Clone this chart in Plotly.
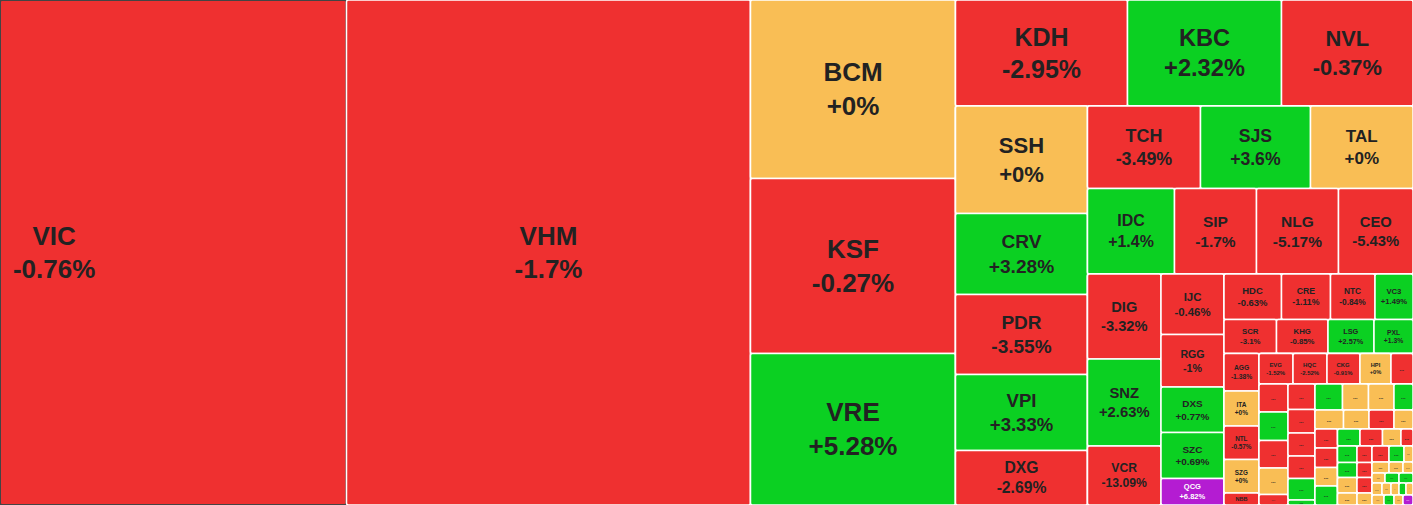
import plotly.graph_objects as go

# ---------------- data ----------------
# leaf tiles: ticker, size value, % change, trend (d=down, u=up, f=flat, c=ceiling), parent block
tickers = [
    "VIC", "VHM",
    "BCM", "KSF", "VRE",
    "KDH", "KBC", "NVL",
    "SSH", "CRV", "PDR", "VPI", "DXG",
    "TCH", "SJS", "TAL",
    "IDC", "SIP", "NLG", "CEO",
    "DIG", "SNZ", "VCR",
    "IJC", "RGG", "DXS", "SZC", "QCG",
    "HDC", "CRE", "NTC", "VC3",
    "SCR", "KHG", "LSG", "PXL",
    "AGG", "ITA", "NTL", "SZG", "NBB",
    "EVG", "HQC", "CKG", "HPI", "...",
    "...", "...", "...", "...", "...",
    "...", "...", "...", "...", "...", "...",
    "...", "...", "...", "...",
    "...", "...", "...", "...",
    "...", "...", "...", "...",
    "...", "...", "...", "...",
    "...", "...", "...", "...",
    "...", "...", "...", "...",
    "...", "...", "...",
    "...", "...", "...",
    "...", "...", "...",
    "...", "...", "...", "...", "...",
    "...", "...", "...", "...",
]
values = [
    174982, 204020,
    36592, 35875, 31058,
    18232, 16324, 13939,
    14190, 10692, 10560, 10032, 7194,
    9322, 9075, 8456,
    7438, 7011, 7011, 6370,
    6248, 6394, 4336,
    3812, 3308, 2866, 2898, 1670,
    2616, 2230, 2025, 1729,
    1785, 1751, 1564, 1326,
    1312, 1225, 1172, 1172, 420,
    1037, 1037, 1006, 946, 671,
    812, 826, 798, 768, 304,
    688, 634, 621, 608, 580, 135,
    715, 676, 663, 494,
    542, 484, 475, 361,
    428, 439, 416, 428,
    382, 382, 314, 204,
    322, 292, 302, 234,
    248, 225, 232, 180,
    272, 240, 144,
    187, 154, 110,
    130, 140, 140,
    120, 108, 96, 84, 84,
    120, 100, 90, 100,
]
changes = [
    "-0.76%", "-1.7%",
    "+0%", "-0.27%", "+5.28%",
    "-2.95%", "+2.32%", "-0.37%",
    "+0%", "+3.28%", "-3.55%", "+3.33%", "-2.69%",
    "-3.49%", "+3.6%", "+0%",
    "+1.4%", "-1.7%", "-5.17%", "-5.43%",
    "-3.32%", "+2.63%", "-13.09%",
    "-0.46%", "-1%", "+0.77%", "+0.69%", "+6.82%",
    "-0.63%", "-1.11%", "-0.84%", "+1.49%",
    "-3.1%", "-0.85%", "+2.57%", "+1.3%",
    "-1.38%", "+0%", "-0.57%", "+0%", "",
    "-1.52%", "-2.52%", "-0.91%", "+0%", "",
] + [""] * 59
trends = [
    "d", "d",
    "f", "d", "u",
    "d", "u", "d",
    "f", "u", "d", "u", "d",
    "d", "u", "f",
    "u", "d", "d", "d",
    "d", "u", "d",
    "d", "d", "u", "u", "c",
    "d", "d", "d", "u",
    "d", "d", "u", "u",
    "d", "f", "d", "f", "d",
    "d", "d", "d", "f", "d",
    "d", "u", "d", "f", "d",
    "d", "d", "d", "d", "u", "u",
    "u", "f", "f", "u",
    "f", "f", "d", "f",
    "d", "d", "f", "u",
    "u", "d", "f", "d",
    "u", "u", "f", "f",
    "d", "d", "d", "f",
    "d", "u", "f",
    "f", "f", "f",
    "f", "u", "u",
    "f", "f", "f", "u", "f",
    "f", "u", "f", "c",
]
leaf_parents = (
    ["root"] * 2 + ["C3"] * 3 + ["Rtop"] * 3 + ["Cssh"] * 5 + ["Rtch"] * 3
    + ["Ridc"] * 4 + ["Cdig"] * 3 + ["Cijc"] * 5 + ["Rhdc"] * 4 + ["Rscr"] * 4
    + ["Cagg"] * 5 + ["Revg"] * 5 + ["colA"] * 5 + ["colB"] * 6 + ["Rg1"] * 4
    + ["Rg2"] * 4 + ["colC"] * 4 + ["Rg3"] * 4 + ["colD"] * 4 + ["colE"] * 4
    + ["Rg4"] * 3 + ["Rg5"] * 3 + ["Rg6"] * 3 + ["Rg7a"] * 5 + ["Rg7b"] * 4
)

# grouping blocks of the treemap (hierarchy only)
group_ids = [
    "C3", "R", "Rtop", "Rbot", "Cssh", "Rright", "Rtch", "Ridc", "Rlow",
    "Cdig", "Cijc", "Rsmall", "Rhdc", "Rscr", "Rlow2", "Cagg", "Rblk",
    "Revg", "Rb2", "colA", "colB", "Rb3", "Rg1", "Rg2", "Rb4", "colC",
    "Rb5", "Rg3", "Rb6", "colD", "colE", "Rb7", "Rg4", "Rg5", "Rg6",
    "Rg7a", "Rg7b",
]
group_parents = [
    "root", "root", "R", "R", "Rbot", "Rbot", "Rright", "Rright", "Rright",
    "Rlow", "Rlow", "Rlow", "Rsmall", "Rsmall", "Rsmall", "Rlow2", "Rlow2",
    "Rblk", "Rblk", "Rb2", "Rb2", "Rb2", "Rb3", "Rb3", "Rb3", "Rb4",
    "Rb4", "Rb5", "Rb5", "Rb6", "Rb6", "Rb6", "Rb7", "Rb7", "Rb7",
    "Rb7", "Rb7",
]

# ---------------- styling ----------------
palette = {"d": "#EF3030", "u": "#0BD022", "f": "#F9BE55", "c": "#B41CD2"}

nodes = []  # (id, label, parent, value, color, text, text_color, size)
nodes.append(("root", "", "", 0, "#FFFFFF", "", "#222222", 10))
leaf_nodes = []
for i, (tk, v, ch, tr, par) in enumerate(zip(tickers, values, changes, trends, leaf_parents)):
    if i == 0:
        pad = "\u00a0" * 33
        txt = f"<b>{tk}{pad}</b><br><b>{ch}{pad}</b>"
    elif ch:
        txt = f"<b>{tk}</b><br><b>{ch}</b>"
    else:
        txt = f"<b>{tk}</b>"
    size = max(5.5, min(26, 0.185 * v ** 0.5))
    tcol = "#FFFFFF" if tr == "c" else "#222222"
    leaf_nodes.append((f"n{i}", tk, par, v, palette[tr], txt, tcol, size))
# children of the root first (in order), then the blocks, then remaining leaves
nodes += [n for n in leaf_nodes if n[2] == "root"]
nodes += [(g, "", p, 0, "#FFFFFF", "", "#222222", 10) for g, p in zip(group_ids, group_parents)]
nodes += [n for n in leaf_nodes if n[2] != "root"]

ids, labels, parents, all_values, colors, texts, text_colors, sizes = map(list, zip(*nodes))

fig = go.Figure(
    go.Treemap(
        ids=ids,
        labels=labels,
        parents=parents,
        values=all_values,
        branchvalues="remainder",
        text=texts,
        textinfo="text",
        textposition="middle center",
        textfont=dict(family="Liberation Sans, Arial, sans-serif", size=sizes, color=text_colors),
        sort=False,
        marker=dict(colors=colors, line=dict(color="#FFFFFF", width=1.5),
                    pad=dict(t=0, l=0, r=0, b=0), cornerradius=2),
        pathbar=dict(visible=False),
        tiling=dict(packing="slice-dice", pad=0),
        hoverinfo="skip",
    )
)
fig.update_layout(
    width=1413,
    height=505,
    margin=dict(l=0, r=0, t=0, b=0),
    paper_bgcolor="#FFFFFF",
    plot_bgcolor="#FFFFFF",
)
fig.write_html(
    "out.html",
    config={"displayModeBar": False},
    post_script="document.body.style.margin='0';document.body.style.overflow='hidden';",
)
